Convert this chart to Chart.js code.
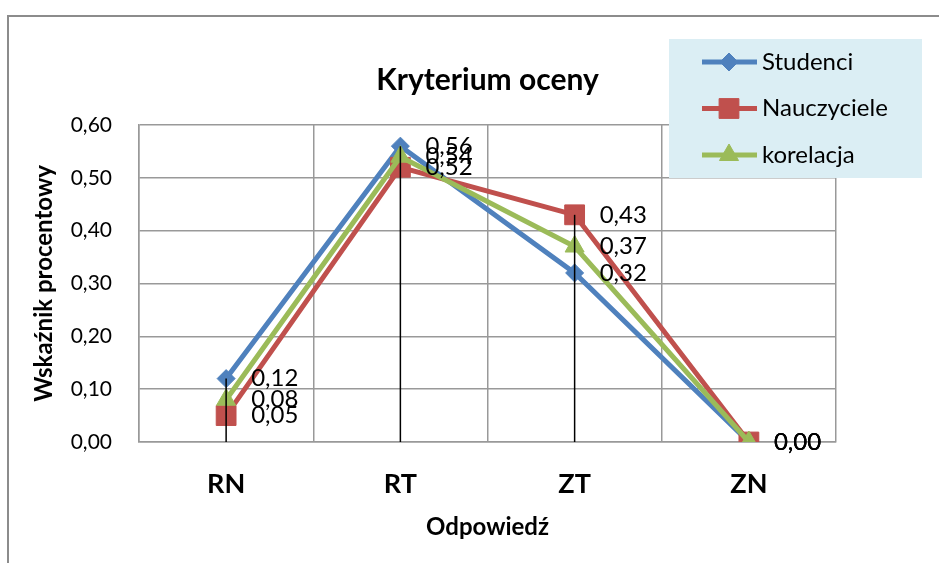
<!DOCTYPE html>
<html>
<head>
<meta charset="utf-8">
<script src="https://cdn.jsdelivr.net/npm/chart.js@4.4.0/dist/chart.umd.min.js"></script>
<style>
  html, body { margin: 0; padding: 0; background: #fff; }
  #wrap { position: relative; width: 939px; height: 563px; }
</style>
</head>
<body>
<div id="wrap"><canvas id="wykres" width="939" height="563"></canvas></div>
<script>
// Dane
const kategorie = ['RN', 'RT', 'ZT', 'ZN'];
const studenci = [0.12, 0.56, 0.32, 0.00];
const nauczyciele = [0.05, 0.52, 0.43, 0.00];
const korelacja = [0.08, 0.54, 0.37, 0.00];
const yMin = 0, yMax = 0.6, yKrok = 0.1;

const fmt = v => v.toFixed(2).replace('.', ',');
const FONT = 'Lato';
Chart.defaults.font.family = FONT;
Chart.defaults.color = '#000';

// Ramka wykresu (lewa i górna krawędź)
const ramka = {
  id: 'ramka',
  beforeDraw(chart) {
    const ctx = chart.ctx;
    ctx.save();
    ctx.strokeStyle = '#8c8c8c';
    ctx.lineWidth = 2;
    ctx.beginPath();
    ctx.moveTo(8, 563);
    ctx.lineTo(8, 16);
    ctx.lineTo(939, 16);
    ctx.stroke();
    ctx.restore();
  }
};

// Linie pionowe od najwyższego punktu do osi + etykiety danych
const linieIEtykiety = {
  id: 'linieIEtykiety',
  afterDatasetsDraw(chart) {
    const ctx = chart.ctx;
    const xs = chart.scales.x, ys = chart.scales.y;
    ctx.save();
    ctx.strokeStyle = '#000';
    ctx.lineWidth = 1.5;
    kategorie.forEach((k, i) => {
      const maks = Math.max(...chart.data.datasets.map(d => d.data[i]));
      if (maks <= 0) return;
      const x = xs.getPixelForValue(i);
      ctx.beginPath();
      ctx.moveTo(x, ys.getPixelForValue(maks));
      ctx.lineTo(x, ys.getPixelForValue(0));
      ctx.stroke();
    });
    ctx.fillStyle = '#000';
    ctx.font = '24px ' + FONT;
    ctx.textAlign = 'left';
    ctx.textBaseline = 'middle';
    chart.data.datasets.forEach((ds, di) => {
      const meta = chart.getDatasetMeta(di);
      meta.data.forEach((p, i) => {
        ctx.fillText(fmt(ds.data[i]), p.x + 25, p.y);
      });
    });
    ctx.restore();
  }
};

// Legenda w niebieskim polu
const legenda = {
  id: 'legenda',
  afterDraw(chart) {
    const ctx = chart.ctx;
    ctx.save();
    ctx.fillStyle = '#dbeef4';
    ctx.fillRect(669, 39, 253, 139);
    chart.data.datasets.forEach((ds, i) => {
      const y = 62 + i * 46.5;
      ctx.strokeStyle = ds.borderColor;
      ctx.lineWidth = 5;
      ctx.beginPath();
      ctx.moveTo(702, y);
      ctx.lineTo(757, y);
      ctx.stroke();
      ctx.fillStyle = ds.borderColor;
      ctx.lineWidth = 1;
      Chart.helpers.drawPoint(ctx, { pointStyle: ds.pointStyle, radius: ds.pointRadius, rotation: 0, borderWidth: 1 }, 729, y);
      ctx.fillStyle = '#000';
      ctx.font = '24px ' + FONT;
      ctx.textAlign = 'left';
      ctx.textBaseline = 'middle';
      ctx.fillText(ds.label, 762, y);
    });
    ctx.restore();
  }
};

const ctx = document.getElementById('wykres').getContext('2d');
new Chart(ctx, {
  type: 'line',
  data: {
    labels: kategorie,
    datasets: [
      { label: 'Studenci', data: studenci, borderColor: '#4f81bd', backgroundColor: '#4f81bd',
        pointStyle: 'rectRot', pointRadius: 9, order: 3 },
      { label: 'Nauczyciele', data: nauczyciele, borderColor: '#c0504d', backgroundColor: '#c0504d',
        pointStyle: 'rect', pointRadius: 14, order: 2 },
      { label: 'korelacja', data: korelacja, borderColor: '#9bbb59', backgroundColor: '#9bbb59',
        pointStyle: 'triangle', pointRadius: 11, order: 1 }
    ]
  },
  options: {
    responsive: false,
    animation: false,
    devicePixelRatio: 1,
    layout: { padding: { left: 10, right: 103, top: 0, bottom: 0 } },
    elements: {
      line: { borderWidth: 5, tension: 0 },
      point: { borderWidth: 1, hoverRadius: 9 }
    },
    plugins: {
      legend: { display: false },
      tooltip: { enabled: false },
      title: {
        display: true,
        text: 'Kryterium oceny',
        fullSize: false,
        font: { size: 30, weight: 'bold' },
        padding: { top: 62, bottom: 27 }
      }
    },
    scales: {
      x: {
        offset: true,
        grid: { color: '#999', lineWidth: 1.5, offset: true, drawTicks: false },
        border: { color: '#999', width: 1.5 },
        ticks: { font: { size: 27, weight: 'bold' }, padding: 26 },
        title: { display: true, text: 'Odpowiedź', font: { size: 24, weight: 'bold' }, padding: { top: 0, bottom: 21 } },
        afterFit(s) { s.height = 121; }
      },
      y: {
        min: yMin, max: yMax,
        ticks: { stepSize: yKrok, font: { size: 21 }, padding: 27, callback: v => fmt(v) },
        grid: { color: '#999', lineWidth: 1.5, drawTicks: false },
        border: { color: '#999', width: 1.5 },
        title: { display: true, text: 'Wskaźnik procentowy', font: { size: 24, weight: 'bold' }, padding: { top: 20, bottom: 0 } },
        afterFit(s) { s.width = 129; }
      }
    }
  },
  plugins: [ramka, linieIEtykiety, legenda]
});
</script>
</body>
</html>
